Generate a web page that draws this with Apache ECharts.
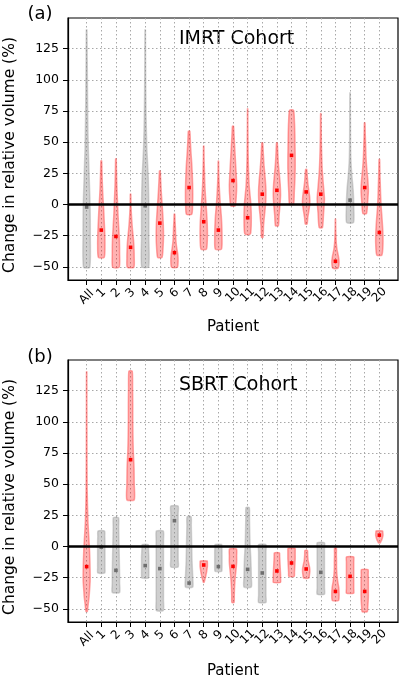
<!DOCTYPE html>
<html>
<head>
<meta charset="utf-8">
<script src="https://cdn.jsdelivr.net/npm/echarts@6/dist/echarts.min.js"></script>
<style>html,body{margin:0;padding:0;background:#fff}#c{width:400px;height:682px}</style>
</head>
<body>
<div id="c"></div>
<script>
// ---- data ----
const categories = ['All','1','2','3','4','5','6','7','8','9','10','11','12','13','14','15','16','17','18','19','20'];
const yTicks = [-50,-25,0,25,50,75,100,125];

// IMRT cohort (panel a)
const imrtMin    = [-50.3,-42.3,-50.3,-50.3,-50.0,-42.3,-50.3,-7.7,-35.7,-35.7,-1.0,-23.7,-26.4,-17.0,0.3,-15.7,-18.4,-51.1,-14.4,-7.2,-40.5];
const imrtMax    = [140.0,35.0,36.7,8.3,140.0,26.9,-7.7,58.8,46.9,34.9,62.8,76.7,49.5,49.5,75.6,28.2,73.0,-11.7,89.5,65.5,36.2];
const imrtMedian = [-2.0,-20.5,-25.6,-34.3,-1.0,-14.9,-38.6,13.6,-13.8,-20.5,19.2,-10.6,8.3,11.4,39.4,10.1,8.3,-45.5,3.5,13.6,-22.4];
const imrtSignificant = [0,1,1,1,0,1,1,1,1,1,1,1,1,1,1,1,1,1,0,1,1];
const imrtShape = [
  [0.85,1.0,0.95,0.7,0.45,0.3,0.22,0.15,0.08],
  [0.8,1.0,0.95,0.8,0.65,0.45,0.3,0.2,0.1],
  [0.9,1.0,0.95,0.75,0.55,0.4,0.25,0.15,0.08],
  [0.9,1.0,0.95,0.8,0.55,0.35,0.2,0.1,0.06],
  [0.95,1.0,1.0,0.85,0.45,0.25,0.15,0.1,0.06],
  [0.6,0.9,1.0,0.95,0.8,0.6,0.4,0.25,0.1],
  [0.8,1.0,0.9,0.6,0.4,0.3,0.25,0.15,0.08],
  [0.75,0.95,1.0,0.95,0.85,0.7,0.5,0.35,0.2],
  [0.75,1.0,0.95,0.75,0.5,0.3,0.2,0.1,0.05],
  [0.85,1.0,0.95,0.8,0.55,0.35,0.2,0.1,0.05],
  [0.6,0.9,1.0,0.9,0.75,0.6,0.45,0.3,0.15],
  [0.75,1.0,0.85,0.45,0.25,0.15,0.1,0.06,0.04],
  [0.2,0.35,0.65,0.95,1.0,0.8,0.5,0.3,0.12],
  [0.4,0.6,0.85,1.0,0.9,0.65,0.4,0.25,0.1],
  [0.55,0.75,0.9,1.0,1.0,0.95,0.9,0.8,0.55],
  [0.25,0.45,0.75,1.0,0.95,0.7,0.45,0.3,0.15],
  [0.45,0.75,1.0,0.7,0.4,0.25,0.15,0.1,0.05],
  [0.7,1.0,0.8,0.45,0.25,0.15,0.1,0.06,0.04],
  [0.95,1.0,0.85,0.45,0.2,0.12,0.1,0.08,0.05],
  [0.5,0.8,1.0,0.85,0.55,0.35,0.25,0.15,0.08],
  [0.7,1.0,0.95,0.75,0.5,0.35,0.25,0.15,0.08]
];

// SBRT cohort (panel b)
const sbrtMin    = [-52.0,-21.2,-36.8,37.4,-25.3,-51.3,-16.4,-32.5,-28.8,-19.9,-44.9,-32.5,-44.9,-28.8,-23.9,-25.3,-38.2,-43.3,-37.4,-52.2,3.0];
const sbrtMax    = [140.0,12.4,23.1,140.6,1.6,12.4,32.5,23.9,-11.6,1.6,-1.9,31.2,1.6,-5.1,-1.3,-3.2,3.0,-1.1,-8.3,-18.5,12.4];
const sbrtMedian = [-16.1,-0.5,-19.1,69.6,-15.3,-17.7,20.7,-29.3,-14.8,-16.1,-15.9,-18.3,-21.2,-19.6,-13.2,-18.0,-20.7,-36.0,-23.9,-36.0,9.1];
const sbrtSignificant = [1,0,0,1,0,0,0,0,1,0,1,0,0,1,1,1,0,1,1,1,1];
const sbrtShape = [
  [0.2,0.95,0.8,0.35,0.15,0.1,0.08,0.06,0.05],
  [0.95,1,1,1,1,1,1,0.95,0.9],
  [1,1,1,0.95,0.9,0.85,0.8,0.75,0.7],
  [1,1,0.95,0.75,0.65,0.6,0.6,0.55,0.45],
  [0.9,1,1,1,1,1,0.95,0.9,0.85],
  [0.95,1,1,1,1,1,1,1,0.95],
  [1,1,1,1,1,1,1,1,1],
  [1,1,0.9,0.8,0.75,0.7,0.65,0.6,0.55],
  [0.1,0.3,0.5,0.65,0.8,0.9,1.0,1.0,0.95],
  [0.9,1,1,1,1,1,1,0.95,0.9],
  [0.3,0.35,0.4,0.5,0.65,0.85,1.0,1.0,0.95],
  [1,1,0.95,0.85,0.7,0.6,0.55,0.5,0.45],
  [1,1,1,1,1,1,1,1,1],
  [1,1,1,0.95,0.9,0.85,0.8,0.75,0.7],
  [0.75,0.8,0.85,0.9,0.95,1,1,1,0.95],
  [0.7,0.9,1.0,0.95,0.75,0.55,0.45,0.4,0.35],
  [1,1,1,1,1,1,1,1,1],
  [0.85,1.0,0.9,0.6,0.4,0.3,0.3,0.25,0.25],
  [1,1,1,1,1,1,1,1,1],
  [0.7,0.85,0.95,1,1,1,1,0.95,0.9],
  [0.25,0.45,0.65,0.8,0.9,1.0,1.0,0.95,0.9]
];

// ---- chart ----
const FONT = 'DejaVu Sans';
const HALF = 0.25;
const Y_MIN = -60.5, Y_MAX = 149.5;
const STY = {
  1: {fill:'rgba(255,0,0,0.30)', stroke:'rgba(255,60,60,0.45)', med:'#ff0000'},
  0: {fill:'rgba(128,128,128,0.38)', stroke:'rgba(150,150,150,0.4)', med:'#6e6e6e'}
};

function buildData(mins, maxs, meds, sig) {
  return categories.map((c, i) => [i, mins[i], maxs[i], meds[i], sig[i]]);
}

function makeRender(shapes) {
  return function (params, api) {
    const i = params.dataIndex;
    const x = api.value(0), lo = api.value(1), hi = api.value(2), med = api.value(3), s = api.value(4);
    const w = shapes[i];
    const n = w.length;
    const right = [], left = [];
    for (let k = 0; k < n; k++) {
      const y = lo + (hi - lo) * k / (n - 1);
      right.push(api.coord([x + HALF * w[k], y]));
      left.push(api.coord([x - HALF * w[k], y]));
    }
    const pts = right.concat(left.reverse());
    const st = STY[s];
    const m = api.coord([x, med]);
    return {
      type: 'group',
      children: [
        {type:'polygon', shape:{points:pts, smooth:0.2}, style:{fill:st.fill, stroke:st.stroke, lineWidth:1.5}},
        {type:'rect', shape:{x:m[0]-1.8, y:m[1]-1.8, width:3.6, height:3.6}, style:{fill:st.med}}
      ]
    };
  };
}

// rotated category labels placed through the x scale
function renderLabel(params, api) {
  const i = api.value(0);
  const p = api.coord([i, Y_MIN]);
  const txt = categories[i];
  const off = 11 + txt.length * 2;
  return {
    type:'text', x:p[0], y:p[1] + off, rotation:Math.PI/4,
    style:{text:txt, font:'12px "DejaVu Sans"', fill:'#000', align:'center', verticalAlign:'middle'}
  };
}

const gridLine = {show:true, lineStyle:{color:'#a8a8a8', width:1, type:[1.5,2.5]}};
const xVals = categories.map((c, i) => i);

function xAxis(gi) {
  return {
    type:'value', gridIndex:gi, min:-1.275, max:21.275,
    axisLine:{show:true, onZero:false, lineStyle:{color:'#000', width:1.2}},
    axisTick:{show:true, length:5, lineStyle:{color:'#000', width:1}, customValues:xVals},
    axisLabel:{show:false},
    splitLine:gridLine
  };
}
function yAxis(gi) {
  return {
    type:'value', gridIndex:gi, min:Y_MIN, max:Y_MAX,
    axisLine:{show:true, onZero:false, lineStyle:{color:'#000', width:1.2}},
    axisTick:{show:true, length:5, lineStyle:{color:'#000', width:1}, customValues:yTicks},
    axisLabel:{show:true, customValues:yTicks, showMinLabel:true, showMaxLabel:true,
      formatter:v=>(v<0?'\u2212'+(-v):String(v)),
      margin:9, fontFamily:FONT, fontSize:12.5, color:'#000'},
    splitLine:gridLine
  };
}

const zeroLine = {silent:true, symbol:'none', label:{show:false}, lineStyle:{color:'#000', width:2.5, type:'solid'}, data:[{yAxis:0}]};

const chart = echarts.init(document.getElementById('c'), null, {renderer:'canvas'});
chart.setOption({
  animation:false,
  grid:[
    {left:68, right:2, top:18, height:262, show:true, borderColor:'#000', borderWidth:1.2},
    {left:68, right:2, top:360, height:262, show:true, borderColor:'#000', borderWidth:1.2}
  ],
  xAxis:[xAxis(0), xAxis(1)],
  yAxis:[yAxis(0), yAxis(1)],
  series:[
    {type:'custom', xAxisIndex:0, yAxisIndex:0, renderItem:makeRender(imrtShape),
     encode:{x:0, y:[1,2]}, data:buildData(imrtMin, imrtMax, imrtMedian, imrtSignificant), markLine:zeroLine, z:3},
    {type:'custom', xAxisIndex:1, yAxisIndex:1, renderItem:makeRender(sbrtShape),
     encode:{x:0, y:[1,2]}, data:buildData(sbrtMin, sbrtMax, sbrtMedian, sbrtSignificant), markLine:zeroLine, z:3},
    {type:'custom', xAxisIndex:0, yAxisIndex:0, renderItem:renderLabel, clip:false, silent:true,
     encode:{x:0}, data:xVals.map(v=>[v]), z:5},
    {type:'custom', xAxisIndex:1, yAxisIndex:1, renderItem:renderLabel, clip:false, silent:true,
     encode:{x:0}, data:xVals.map(v=>[v]), z:5}
  ],
  graphic:[
    {type:'text', x:40, y:14, style:{text:'(a)', font:'18px "DejaVu Sans"', fill:'#000', align:'center', verticalAlign:'middle'}},
    {type:'text', x:40, y:357, style:{text:'(b)', font:'18px "DejaVu Sans"', fill:'#000', align:'center', verticalAlign:'middle'}},
    {type:'text', x:179, y:39, style:{text:'IMRT Cohort', font:'19px "DejaVu Sans"', fill:'#000', align:'left', verticalAlign:'middle'}},
    {type:'text', x:179, y:385, style:{text:'SBRT Cohort', font:'19px "DejaVu Sans"', fill:'#000', align:'left', verticalAlign:'middle'}},
    {type:'text', x:10, y:155, rotation:Math.PI/2, style:{text:'Change in relative volume (%)', font:'15.5px "DejaVu Sans"', fill:'#000', align:'center', verticalAlign:'middle'}},
    {type:'text', x:10, y:497, rotation:Math.PI/2, style:{text:'Change in relative volume (%)', font:'15.5px "DejaVu Sans"', fill:'#000', align:'center', verticalAlign:'middle'}},
    {type:'text', x:233, y:327, style:{text:'Patient', font:'15px "DejaVu Sans"', fill:'#000', align:'center', verticalAlign:'middle'}},
    {type:'text', x:233, y:671, style:{text:'Patient', font:'15px "DejaVu Sans"', fill:'#000', align:'center', verticalAlign:'middle'}}
  ]
});
</script>
</body>
</html>
